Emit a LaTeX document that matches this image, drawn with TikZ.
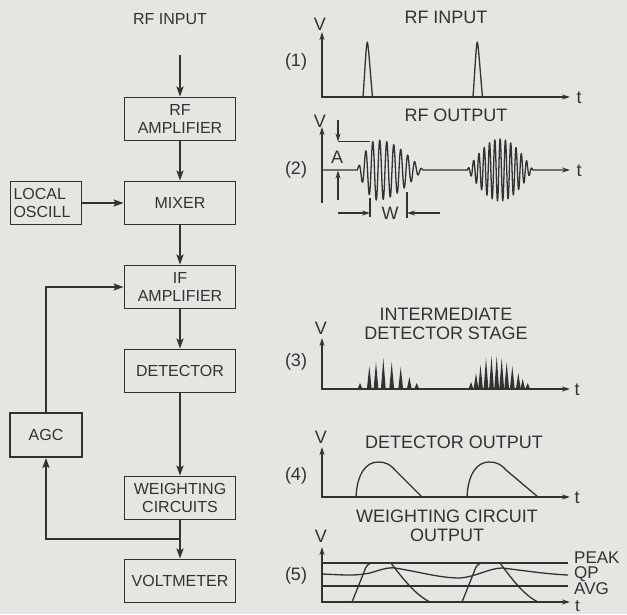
\documentclass[tikz,border=0pt]{standalone}
\usepackage{fontspec}
\setmainfont{Liberation Sans}
\usetikzlibrary{arrows.meta}
\definecolor{bg}{RGB}{229,229,226}
\definecolor{ink}{RGB}{50,50,50}
\tikzset{
  blk/.style={draw=ink, line width=1.8pt, minimum width=111pt, minimum height=43pt, inner sep=2pt,
    font=\fontsize{16}{18}\selectfont, text=ink, align=center},
  conn/.style={draw=ink, line width=1.8pt, -{Stealth[length=10pt,width=7pt,inset=2pt]}},
  lbl/.style={font=\fontsize{16}{18}\selectfont, text=ink, inner sep=0pt},
  rl/.style={font=\fontsize{18}{18.5}\selectfont, text=ink, inner sep=0pt, align=center},
  sl/.style={font=\fontsize{17}{17}\selectfont, text=ink, inner sep=0pt, anchor=west, text height=12pt, text depth=0pt},
  axis/.style={draw=ink, line width=1.4pt, {Stealth[length=8pt,width=5pt]}-{Stealth[length=8pt,width=5pt]}},
  haxis/.style={draw=ink, line width=1.4pt, -{Stealth[length=8pt,width=5pt]}},
  wave/.style={draw=ink, line width=1.3pt, line join=round},
  dim/.style={draw=ink, line width=1.2pt},
  dimarr/.style={draw=ink, line width=1.2pt, -{Stealth[length=8pt,width=5pt]}},
}
\begin{document}
\begin{tikzpicture}[x=1pt,y=-1pt]
\fill[bg] (0,0) rectangle (627,614);
\useasboundingbox (0,0) rectangle (627,614);

% ---------------- block diagram ----------------
\node[lbl] (rfinlbl) at (170,19) {RF INPUT};
\coordinate (rfin) at (180,55);
\node[blk] (rfamp) at (180,119) {RF\\AMPLIFIER};
\node[blk] (mixer) at (180,203) {MIXER};
\node[blk, minimum width=71pt, text width=65pt, inner xsep=3pt, align=left] (lo) at (46,203) {LOCAL\\OSCILL};
\node[blk] (ifamp) at (180,287) {IF\\AMPLIFIER};
\node[blk] (det) at (180,371) {DETECTOR};
\node[blk, minimum width=72pt, minimum height=44pt] (agc) at (46,435) {AGC};
\node[blk] (wc) at (180,498) {WEIGHTING\\CIRCUITS};
\node[blk] (vm) at (180,581) {VOLTMETER};

\draw[conn] (rfin) -- (rfamp.north);
\draw[conn] (rfamp) -- (mixer);
\draw[conn] (lo) -- (mixer);
\draw[conn] (mixer) -- (ifamp);
\draw[conn] (ifamp) -- (det);
\draw[conn] (det) -- (wc);
\draw[conn] (wc) -- (vm);
\coordinate (jn) at (180,539);
\draw[conn] (jn) -| (agc.south);
\draw[conn] (agc.north) |- (ifamp.west);

% ---------------- graph (1) ----------------
\node[rl] (t1) at (446,17) {RF INPUT};
\node[rl] (v1) at (320,24) {V};
\node[rl] (n1) at (296,62) {(1)};
\node[rl] (tt1) at (579,98) {t};
\draw[axis] (322,32) -- (322,97) -- (570,97);
\draw[wave] (363,97) .. controls (365,70) and (366,45) .. (367.3,42) .. controls (368.5,45) and (370,70) .. (372.5,97);
\draw[wave] (473,97) .. controls (475,70) and (476,45) .. (477.3,42) .. controls (478.5,45) and (480,70) .. (482.5,97);

% ---------------- graph (2) ----------------
\node[rl] (t2) at (456,115) {RF OUTPUT};
\node[rl] (v2) at (320,121) {V};
\node[rl] (n2) at (296,170) {(2)};
\node[rl] (tt2) at (579,171) {t};
\draw[haxis] (322,203) -- (322,127);
\draw[wave, -{Stealth[length=8pt,width=5pt]}] (322,170) -- (357,170)
  -- plot[domain=357:423, samples=420] (\x, {170 - ((\x-357<20)*30*sin(4.5*(\x-357)) + (\x-357>=20)*30*cos(1.9565*(\x-377)))*sin(51.4286*(\x-357))})
  -- (467,170)
  -- plot[domain=467:533, samples=500] (\x, {170 - 31*sin(2.7273*(\x-467))*sin(67.925*(\x-467))})
  -- (570,170);
% A dimension
\draw[dimarr] (338,120) -- (338,141.5);
\draw[dim] (338,141.5) -- (370,141.5);
\draw[dimarr] (338,200) -- (338,170.5);
\node[rl] (alab) at (337,157) {A};
% W dimension
\draw[dim] (370,198) -- (370,217);
\draw[dim] (407,192) -- (407,218);
\draw[dimarr] (338,213) -- (370,213);
\draw[dimarr] (440,213) -- (407,213);
\node[rl] (wlab) at (390,213) {W};

% ---------------- graph (3) ----------------
\node[rl] (t3) at (446,324) {INTERMEDIATE\\DETECTOR STAGE};
\node[rl] (v3) at (321,328) {V};
\node[rl] (n3) at (296,362) {(3)};
\node[rl] (tt3) at (577,390) {t};
\draw[axis] (322,338) -- (322,389) -- (570,389);
\foreach \px/\ph in {360/6, 369.3/23, 376/27, 383.3/31, 391.7/27, 400.7/22, 409.3/12, 416.7/6,
  471/7, 476/16, 480.5/24, 486/31, 491.5/33, 496.7/33, 501.7/31, 506.7/27, 512.3/23, 518.3/16, 522.7/10, 527.7/6}
  \fill[ink] (\px-2.4,389) -- (\px,389-\ph) -- (\px+2.4,389) -- cycle;
\draw[ink, line width=1.6pt] (468,389) -- (530,389);

% ---------------- graph (4) ----------------
\node[rl] (t4) at (454,442) {DETECTOR OUTPUT};
\node[rl] (v4) at (321,437) {V};
\node[rl] (n4) at (296,476) {(4)};
\node[rl] (tt4) at (577,498) {t};
\draw[axis] (322,447) -- (322,497) -- (570,497);
\draw[wave] (356,497) .. controls (357,474) and (366,462) .. (378,462) .. controls (385,462) and (390,464) .. (395,470) -- (422,497);
\draw[wave] (467,497) .. controls (468,474) and (477,462) .. (489,462) .. controls (496,462) and (501,464) .. (506,470) -- (538,497);

% ---------------- graph (5) ----------------
\node[rl] (t5) at (447,526) {WEIGHTING CIRCUIT\\OUTPUT};
\node[rl] (v5) at (321,536) {V};
\node[rl] (n5) at (296,576) {(5)};
\node[sl] (tt5) at (575,605) {t};
\node[sl] (peak) at (574,557) {PEAK};
\node[sl] (qp) at (574,572.5) {QP};
\node[sl] (avg) at (574,588.5) {AVG};
\draw[axis] (322,547) -- (322,602) -- (570,602);
\draw[wave] (322,563) -- (568,563);
\draw[wave] (322,586) -- (568,586);
\draw[wave] (322,574) .. controls (345,575) and (355,576) .. (370,573) .. controls (380,570) and (388,567) .. (395,568)
  .. controls (420,572) and (440,578) .. (460,578) .. controls (475,577) and (490,568) .. (502,568)
  .. controls (520,570) and (545,574) .. (568,575);
\draw[wave] (352,602) -- (364,572) .. controls (366,566) and (368,563) .. (373,563) -- (391,563)
  .. controls (400,575) and (415,595) .. (430,602);
\draw[wave] (462,602) -- (474,572) .. controls (476,566) and (478,563) .. (483,563) -- (500,563)
  .. controls (509,575) and (523,595) .. (538,602);
\end{tikzpicture}
\end{document}
